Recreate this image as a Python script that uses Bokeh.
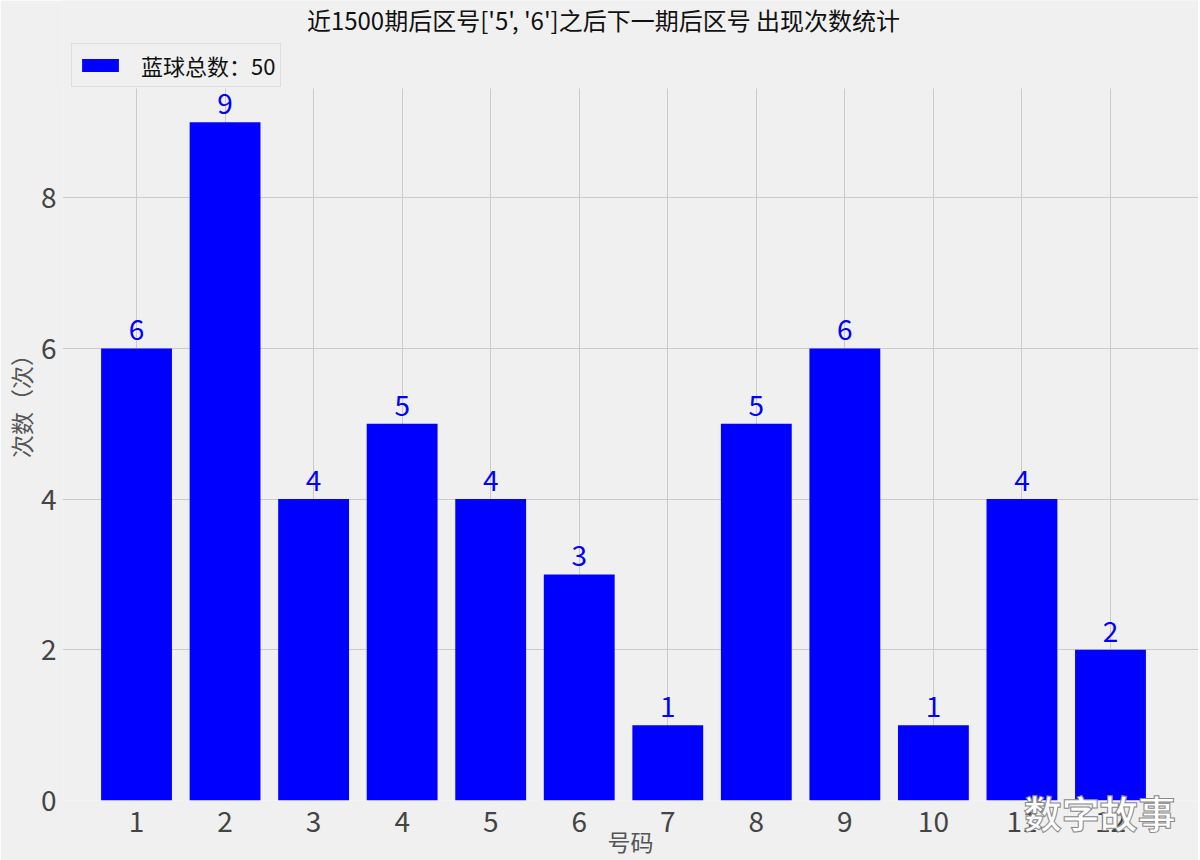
from bokeh.plotting import figure
from bokeh.models import (Range1d, Legend, LegendItem, FixedTicker, ColumnDataSource, Label,
                          LinearAxis, BoxAnnotation)
from bokeh.core.properties import value
from bokeh.embed import file_html
from bokeh.resources import INLINE

numbers = [1, 2, 3, 4, 5, 6, 7, 8, 9, 10, 11, 12]
counts = [6, 9, 4, 5, 4, 3, 1, 5, 6, 1, 4, 2]
title_text = "近1500期后区号['5', '6']之后下一期后区号 出现次数统计"
legend_text = "蓝球总数：50"
x_label = "号码"
y_label = "次数（次）"
y_ticks = [0, 2, 4, 6, 8]
watermark = "数字故事"
watermark_pos = 11.88

FONT = "Noto Sans CJK SC"
BG = "#f0f0f0"

data_top = max(counts) * 1.05          # matplotlib-like top margin
px_per_unit = 75.4
top_strip = 88                         # px above data area (title + legend)
frame_h = 800
y_end = data_top + top_strip / px_per_unit

src = ColumnDataSource(dict(x=numbers, top=counts, label=[str(c) for c in counts]))

p = figure(frame_width=1136, frame_height=frame_h, output_backend="svg", toolbar_location=None,
           x_range=Range1d(0.164, 12.994), y_range=Range1d(0, y_end),
           min_border_left=0, min_border_right=0, min_border_top=0, min_border_bottom=0)
p.background_fill_color = BG
p.border_fill_color = BG
p.outline_line_color = None

bars = p.vbar(x="x", top="top", width=0.8, bottom=0, source=src, fill_color="#0000ff", line_color=None)
p.text(x="x", y="top", text="label", source=src, text_align="center", text_baseline="bottom",
       y_offset=-8, text_color="#0000ff", text_font=value(FONT), text_font_size="28px")

# hide grid in the strip above the data area (title + legend strip)
p.add_layout(BoxAnnotation(bottom=data_top, fill_color=BG, fill_alpha=1, line_color=None))

for ax in (p.xaxis[0], p.yaxis[0]):
    ax.axis_line_color = None
    ax.major_tick_line_color = None
    ax.minor_tick_line_color = None
    ax.major_label_text_font = FONT
    ax.major_label_text_font_size = "28px"
    ax.major_label_text_color = "#444444"
    ax.axis_label_text_font = FONT
    ax.axis_label_text_font_size = "23px"
    ax.axis_label_text_font_style = "normal"
    ax.axis_label_text_color = "#555555"
p.xaxis.ticker = FixedTicker(ticks=numbers)
p.yaxis.ticker = FixedTicker(ticks=y_ticks)
p.xaxis.major_label_standoff = 4
p.yaxis.major_label_standoff = 0
p.yaxis.axis_label = y_label
p.yaxis.axis_label_standoff = 0

# second bottom axis: watermark text overlapping tick row + x axis label
ax2 = LinearAxis(ticker=FixedTicker(ticks=[watermark_pos]),
                 major_label_overrides={watermark_pos: watermark},
                 axis_label=x_label, axis_label_standoff=-18,
                 major_label_standoff=-57)
ax2.axis_line_color = None
ax2.major_tick_line_color = None
ax2.minor_tick_line_color = None
ax2.major_label_text_font = FONT
ax2.major_label_text_font_size = "38px"
ax2.major_label_text_font_style = "bold"
ax2.major_label_text_color = "#ffffff"
ax2.major_label_text_outline_color = "#888888"
ax2.axis_label_text_font = FONT
ax2.axis_label_text_font_size = "23px"
ax2.axis_label_text_font_style = "normal"
ax2.axis_label_text_color = "#555555"
p.add_layout(ax2, "below")

p.xgrid.ticker = FixedTicker(ticks=numbers)
p.ygrid.ticker = FixedTicker(ticks=y_ticks)
for g in (p.xgrid[0], p.ygrid[0]):
    g.grid_line_color = "#cbcbcb"
    g.grid_line_width = 1

legend = Legend(items=[LegendItem(label=legend_text, renderers=[bars])], location=(9, 713),
                label_text_font=FONT, label_text_font_size="22px", label_text_color="#111111",
                glyph_width=46, glyph_height=16, label_height=24, background_fill_color=BG,
                background_fill_alpha=1, border_line_color="#cccccc", border_line_width=1,
                padding=5, spacing=0, label_standoff=18, margin=0)
p.add_layout(legend, "center")

p.add_layout(Label(x=541, y=frame_h - 19, x_units="screen", y_units="screen", text=title_text,
                   text_align="center", text_baseline="middle", text_font=FONT,
                   text_font_size="24px", text_color="#111111"))

open("out.html", "w").write(file_html(p, INLINE))
